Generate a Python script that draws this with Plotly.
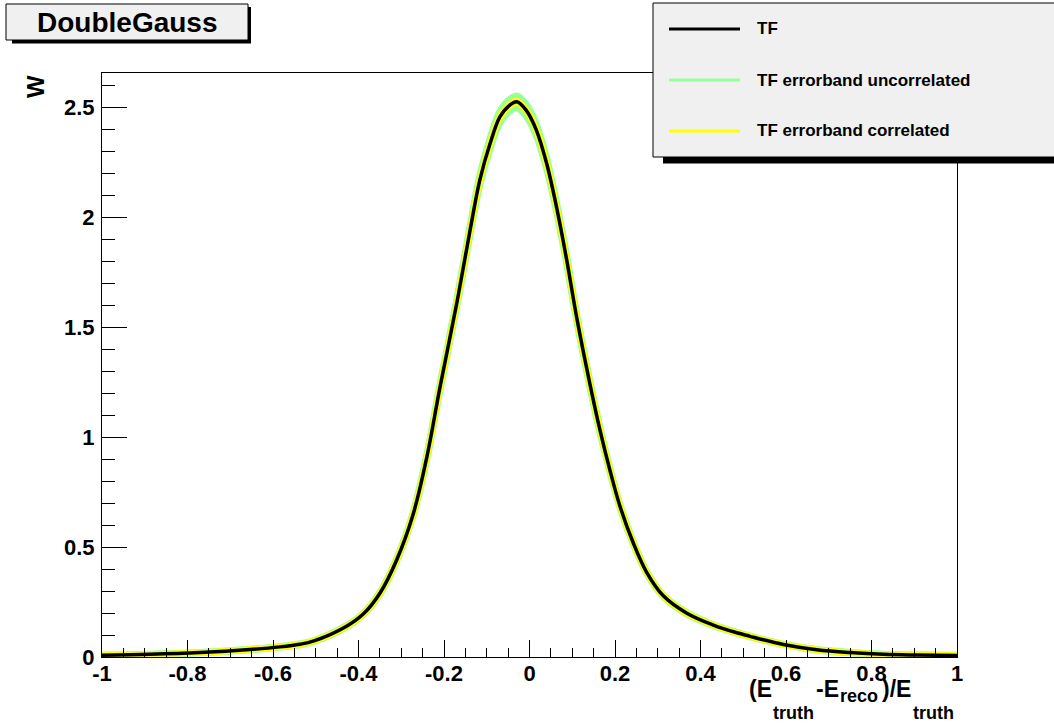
import plotly.graph_objects as go

# Transfer function W vs (E_truth - E_reco)/E_truth, sampled along the curve
x_vals = [-1.0, -0.888, -0.771, -0.654, -0.584, -0.537, -0.506, -0.428, -0.389,
          -0.350, -0.311, -0.272, -0.240, -0.209, -0.170, -0.139, -0.116, -0.092,
          -0.069, -0.046, -0.030, -0.008, 0.016, 0.040, 0.063, 0.087, 0.110,
          0.141, 0.165, 0.188, 0.212, 0.243, 0.274, 0.313, 0.368, 0.430, 0.485,
          0.516, 0.539, 0.594, 0.672, 0.750, 0.828, 0.906, 1.0]
w_vals = [0.008, 0.012, 0.020, 0.034, 0.046, 0.058, 0.072, 0.140, 0.195,
          0.290, 0.440, 0.650, 0.910, 1.230, 1.610, 1.940, 2.170, 2.335,
          2.456, 2.509, 2.524, 2.486, 2.395, 2.244, 2.047, 1.805, 1.547,
          1.244, 1.030, 0.850, 0.683, 0.517, 0.385, 0.278, 0.199, 0.145, 0.110,
          0.094, 0.082, 0.057, 0.033, 0.020, 0.012, 0.009, 0.007]
# half-widths of the uncorrelated (green) and correlated (yellow) error bands
err_uncorr = [0.001, 0.001, 0.001, 0.001, 0.001, 0.002, 0.002, 0.003, 0.003,
              0.004, 0.005, 0.007, 0.009, 0.012, 0.015, 0.018, 0.021, 0.023,
              0.025, 0.026, 0.026, 0.026, 0.025, 0.023, 0.020, 0.018, 0.015,
              0.012, 0.010, 0.008, 0.007, 0.005, 0.004, 0.003, 0.003, 0.002, 0.002,
              0.002, 0.001, 0.001, 0.001, 0.001, 0.001, 0.001, 0.001]
err_corr = [0.001, 0.001, 0.001, 0.001, 0.001, 0.001, 0.001, 0.001, 0.001,
            0.001, 0.002, 0.002, 0.002, 0.003, 0.003, 0.004, 0.004, 0.005,
            0.005, 0.005, 0.005, 0.005, 0.005, 0.005, 0.004, 0.004, 0.003,
            0.003, 0.002, 0.002, 0.002, 0.002, 0.001, 0.001, 0.001, 0.001, 0.001,
            0.001, 0.001, 0.001, 0.001, 0.001, 0.001, 0.001, 0.001]

x_ticks = [-1, -0.8, -0.6, -0.4, -0.2, 0, 0.2, 0.4, 0.6, 0.8, 1]
x_tick_text = ["-1", "-0.8", "-0.6", "-0.4", "-0.2", "0", "0.2", "0.4", "0.6", "0.8", "1"]
y_ticks = [0, 0.5, 1, 1.5, 2, 2.5]
y_tick_text = ["0", "0.5", "1", "1.5", "2", "2.5"]

legend_labels = ["TF", "TF errorband uncorrelated", "TF errorband correlated"]

GREEN = "#99ff99"
YELLOW = "#ffff00"
FONT = "Liberation Sans"

# plot-frame geometry (pixels)
W_PX, H_PX = 1054, 724
L, R, T, B = 102, 957, 73, 657


def px_x(p):
    return (p - L) / (R - L)


def px_y(p):
    return (B - p) / (B - T)


def band(vals, errs, sign):
    return [v + sign * e for v, e in zip(vals, errs)]


fig = go.Figure()
spline = dict(shape="spline", smoothing=1.0)

# uncorrelated band
fig.add_trace(go.Scatter(x=x_vals, y=band(w_vals, err_uncorr, 1), mode="lines",
                         line=dict(color=GREEN, width=7, **spline), showlegend=False,
                         hoverinfo="skip"))
fig.add_trace(go.Scatter(x=x_vals, y=band(w_vals, err_uncorr, -1), mode="lines",
                         line=dict(color=GREEN, width=7, **spline), fill="tonexty",
                         fillcolor=GREEN, showlegend=False, hoverinfo="skip"))
# correlated band
fig.add_trace(go.Scatter(x=x_vals, y=band(w_vals, err_corr, 1), mode="lines",
                         line=dict(color=YELLOW, width=6, **spline), showlegend=False,
                         hoverinfo="skip"))
fig.add_trace(go.Scatter(x=x_vals, y=band(w_vals, err_corr, -1), mode="lines",
                         line=dict(color=YELLOW, width=6, **spline), fill="tonexty",
                         fillcolor=YELLOW, showlegend=False, hoverinfo="skip"))
# central curve
fig.add_trace(go.Scatter(x=x_vals, y=w_vals, mode="lines",
                         line=dict(color="black", width=3.5, **spline), showlegend=False))

tickfont = dict(family=FONT, size=22, color="black", weight="bold")

fig.update_xaxes(range=[-1, 1], tickvals=x_ticks, ticktext=x_tick_text,
                 ticks="inside", ticklen=17, tickwidth=1, tickcolor="black",
                 minor=dict(ticks="inside", ticklen=9, dtick=0.05, tick0=-1,
                            tickcolor="black", tickwidth=1),
                 showline=True, linecolor="black", linewidth=1, mirror=True,
                 showgrid=False, zeroline=False, tickfont=tickfont,
                 ticklabelstandoff=-3)
fig.update_yaxes(range=[0, (B - T) / 220], tickvals=y_ticks, ticktext=y_tick_text,
                 ticks="inside", ticklen=25, tickwidth=1, tickcolor="black",
                 minor=dict(ticks="inside", ticklen=13, dtick=0.1, tick0=0,
                            tickcolor="black", tickwidth=1),
                 showline=True, linecolor="black", linewidth=1, mirror=True,
                 showgrid=False, zeroline=False, tickfont=tickfont,
                 ticklabelstandoff=2)

shapes = []
annotations = []

# title box with drop shadow
shapes.append(dict(type="rect", xref="paper", yref="paper",
                   x0=px_x(12), x1=px_x(251), y0=px_y(43.5), y1=px_y(7),
                   fillcolor="black", line=dict(width=0), layer="above"))
shapes.append(dict(type="rect", xref="paper", yref="paper",
                   x0=px_x(6), x1=px_x(248), y0=px_y(40), y1=px_y(4),
                   fillcolor="#f0f0f0", line=dict(color="black", width=1), layer="above"))
annotations.append(dict(xref="paper", yref="paper", x=px_x(127), y=px_y(22),
                        text="DoubleGauss", showarrow=False, xanchor="center",
                        yanchor="middle",
                        font=dict(family=FONT, size=28, color="black", weight="bold")))

# legend box with drop shadow
shapes.append(dict(type="rect", xref="paper", yref="paper",
                   x0=px_x(663), x1=px_x(1070), y0=px_y(163.5), y1=px_y(10),
                   fillcolor="black", line=dict(width=0), layer="above"))
shapes.append(dict(type="rect", xref="paper", yref="paper",
                   x0=px_x(653), x1=px_x(1070), y0=px_y(157), y1=px_y(3),
                   fillcolor="#f0f0f0", line=dict(color="black", width=1), layer="above"))
legend_colors = ["black", GREEN, YELLOW]
legend_rows = [29, 80, 131]
for lab, col, row in zip(legend_labels, legend_colors, legend_rows):
    shapes.append(dict(type="line", xref="paper", yref="paper",
                       x0=px_x(669), x1=px_x(740), y0=px_y(row), y1=px_y(row),
                       line=dict(color=col, width=3), layer="above"))
    annotations.append(dict(xref="paper", yref="paper", x=px_x(755), y=px_y(row),
                            text=lab, showarrow=False, xanchor="left", yanchor="middle",
                            font=dict(family=FONT, size=17, color="black", weight="bold")))

# y-axis title
annotations.append(dict(xref="paper", yref="paper", x=px_x(36), y=px_y(87),
                        text="W", textangle=-90, showarrow=False,
                        xanchor="center", yanchor="middle",
                        font=dict(family=FONT, size=24, color="black", weight="bold")))

# x-axis title, assembled piece by piece so each subscript sits where it belongs
main_font = dict(family=FONT, size=23, color="black", weight="bold")
sub_font = dict(family=FONT, size=18, color="black", weight="bold")
title_parts = [
    ("(E", 748, 689, main_font),
    ("truth", 772, 713, sub_font),
    ("-E", 815, 689, main_font),
    ("reco", 839, 696, sub_font),
    (")/E", 881, 689, main_font),
    ("truth", 912, 713, sub_font),
]
for txt, xp, yp, fnt in title_parts:
    annotations.append(dict(xref="paper", yref="paper", x=px_x(xp), y=px_y(yp),
                            text=txt, showarrow=False, xanchor="left", yanchor="middle",
                            borderpad=0, font=fnt))

fig.update_layout(width=W_PX, height=H_PX, autosize=False,
                  margin=dict(l=L, r=W_PX - R, t=T, b=H_PX - B),
                  paper_bgcolor="white", plot_bgcolor="white",
                  shapes=shapes, annotations=annotations, showlegend=False)

fig.write_html("out.html")
